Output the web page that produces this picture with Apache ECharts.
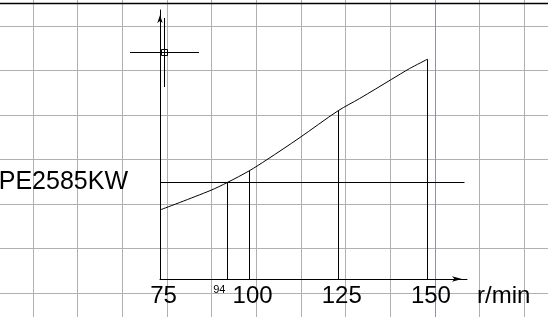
<!DOCTYPE html>
<html>
<head>
<meta charset="utf-8">
<script src="https://cdn.jsdelivr.net/npm/echarts@6.0.0/dist/echarts.min.js"></script>
<style>
html,body{margin:0;padding:0;background:#fff;}
#c{width:548px;height:317px;}
</style>
</head>
<body>
<div id="c"></div>
<script>
// speed (r/min) and power (kW)
var speedValues = [75, 89, 94, 100, 105, 114, 125, 131, 140, 145, 150];
var powerValues = [1845, 2360, 2585, 2890, 3190, 3765, 4500, 4825, 5340, 5625, 5873];
var tickLabels = [75, 94, 100, 125, 150];
var dropSpeeds = [94, 100, 125, 150];
var peValue = 2585;
var peLabel = 'PE2585KW';
var peLineEnd = 160.4;
var axisName = 'r/min';

var FONT = '"Liberation Sans", Arial, sans-serif';

function powerAt(s) {
  var i = speedValues.indexOf(s);
  return powerValues[i];
}

var curve = speedValues.map(function (s, i) { return [s, powerValues[i]]; });

var markData = [
  [{coord: [speedValues[0], peValue],
    label: {show: true, position: 'start', formatter: peLabel, distance: 32,
            fontSize: 25, color: '#000', fontFamily: FONT}},
   {coord: [peLineEnd, peValue]}]
];
dropSpeeds.forEach(function (s) {
  markData.push([{coord: [s, 0]}, {coord: [s, powerAt(s)]}]);
});

var gridColors = [];
for (var k = 0; k < 15; k++) gridColors.push(k === 10 ? '#8c93a3' : '#b0b0b0');

var chart = echarts.init(document.getElementById('c'), null, {renderer: 'canvas'});
chart.setOption({
  animation: false,
  backgroundColor: '#fff',
  grid: [
    {left: 160, right: 81, top: 10, bottom: 38, outerBoundsMode: 'none', containLabel: false},
    {left: -11.64, top: -18.5, width: 624.96, height: 400.5, outerBoundsMode: 'none', containLabel: false}
  ],
  xAxis: [
    {
      type: 'value', gridIndex: 0, min: 75, max: 161.1,
      axisLine: {show: true, lineStyle: {color: '#000', width: 1},
                 symbol: ['none', 'arrow'], symbolSize: [4, 10], symbolOffset: [0, -5]},
      axisTick: {show: false},
      splitLine: {show: false},
      axisLabel: {
        customValues: tickLabels, margin: 5, color: '#000', fontFamily: FONT,
        formatter: function (v) { return v === 94 ? '{s|' + v + '}' : '{b|' + v + '}'; },
        rich: {
          b: {fontSize: 24, fontFamily: FONT, color: '#000', padding: [0, 0, 0, 7]},
          s: {fontSize: 11, fontFamily: FONT, color: '#000', padding: [0, 17, 0, 0]}
        }
      },
      name: axisName, nameLocation: 'end', nameGap: 10,
      nameTextStyle: {fontSize: 24, fontFamily: FONT, color: '#000', align: 'left',
                      verticalAlign: 'top', padding: [5, 0, 0, 0]}
    },
    {
      type: 'value', gridIndex: 1, min: 0, max: 14, interval: 1,
      axisLine: {show: false}, axisTick: {show: false}, axisLabel: {show: false},
      splitLine: {show: true, lineStyle: {color: gridColors, width: 1}}
    }
  ],
  yAxis: [
    {
      type: 'value', gridIndex: 0, min: 0, max: 7190,
      axisLine: {show: true, lineStyle: {color: '#000', width: 1},
                 symbol: ['none', 'arrow'], symbolSize: [4, 8], symbolOffset: [0, -5]},
      axisTick: {show: false},
      splitLine: {show: false},
      axisLabel: {show: false}
    },
    {
      type: 'value', gridIndex: 1, min: 0, max: 9, interval: 1, inverse: true,
      axisLine: {show: false}, axisTick: {show: false}, axisLabel: {show: false},
      splitLine: {show: true, lineStyle: {color: '#b0b0b0', width: 1}}
    }
  ],
  series: [
    {
      type: 'line', xAxisIndex: 0, yAxisIndex: 0, data: curve,
      symbol: 'none', smooth: 0.3, z: 5,
      lineStyle: {color: '#000', width: 1},
      markLine: {
        silent: true, symbol: ['none', 'none'],
        lineStyle: {color: '#000', width: 1, type: 'solid'},
        label: {show: false},
        data: markData
      }
    }
  ],
  graphic: [
    {type: 'line', shape: {x1: 0, y1: 3.5, x2: 548, y2: 3.5}, style: {stroke: '#000', lineWidth: 1.3}, z: 10},
    {type: 'line', shape: {x1: 130, y1: 52.5, x2: 199, y2: 52.5}, style: {stroke: '#000', lineWidth: 1}, z: 10},
    {type: 'line', shape: {x1: 164.5, y1: 18, x2: 164.5, y2: 87}, style: {stroke: '#000', lineWidth: 1}, z: 10},
    {type: 'rect', shape: {x: 161.5, y: 49.5, width: 6, height: 6}, style: {stroke: '#000', fill: 'none', lineWidth: 1}, z: 10}
  ]
});
</script>
</body>
</html>
